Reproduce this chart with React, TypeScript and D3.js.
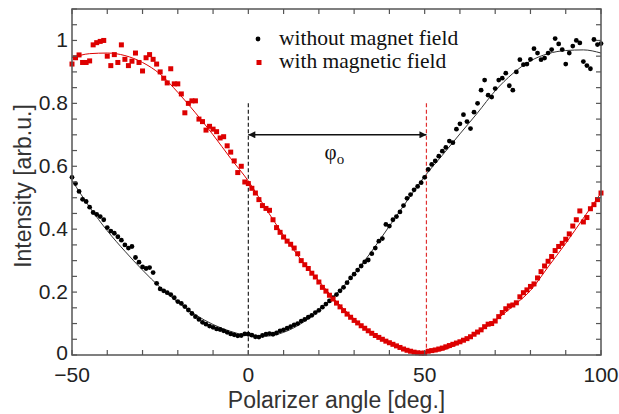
import React from "react";
import * as d3 from "d3";

// measured points, one per degree from -50 to 100
const angles = d3.range(-50, 101, 1);

const withoutField = [
  0.565, 0.545, 0.52, 0.495, 0.488, 0.47, 0.453, 0.447, 0.44, 0.43,
  0.405, 0.394, 0.387, 0.376, 0.365, 0.35, 0.34, 0.345, 0.31, 0.295,
  0.28, 0.275, 0.278, 0.262, 0.228, 0.21, 0.204, 0.198, 0.192, 0.182,
  0.17, 0.164, 0.154, 0.143, 0.132, 0.122, 0.113, 0.104, 0.098, 0.092,
  0.088, 0.083, 0.081, 0.077, 0.072, 0.067, 0.064, 0.061, 0.062, 0.067,
  0.066,
  0.063, 0.058, 0.057, 0.062, 0.066, 0.068, 0.066, 0.07, 0.077, 0.08,
  0.085, 0.09, 0.096, 0.1, 0.108, 0.113, 0.12, 0.126, 0.135, 0.142,
  0.152, 0.162, 0.172, 0.182, 0.192, 0.204, 0.215, 0.23, 0.245, 0.257,
  0.27, 0.283, 0.296, 0.302, 0.322, 0.34, 0.362, 0.37, 0.415, 0.41,
  0.43, 0.44, 0.455, 0.475, 0.498, 0.51, 0.525, 0.536, 0.548, 0.565,
  0.59, 0.606, 0.617, 0.632, 0.648, 0.66, 0.68, 0.675, 0.718, 0.735,
  0.764, 0.742, 0.72, 0.772, 0.8, 0.842, 0.874, 0.826, 0.82, 0.847,
  0.874, 0.88, 0.896, 0.856, 0.842, 0.9, 0.939, 0.923, 0.925, 0.94,
  0.974, 0.96, 0.939, 0.944, 0.96, 0.971, 1.006, 0.989, 0.971, 0.925,
  0.96, 0.982, 1.0, 0.992, 0.933, 0.92, 0.91, 1.003, 0.987, 0.99,
];

const withField = [
  0.925, 0.945, 0.954, 0.93, 0.93, 0.935, 0.986, 0.993, 0.997, 1.0,
  0.95, 0.92, 0.955, 0.93, 0.986, 0.94, 0.92, 0.934, 0.96, 0.93,
  0.903, 0.945, 0.955, 0.94, 0.925, 0.9, 0.88, 0.865, 0.91, 0.862,
  0.862, 0.83, 0.77, 0.8, 0.808, 0.808, 0.75, 0.742, 0.715, 0.727,
  0.718, 0.71, 0.69, 0.694, 0.665, 0.645, 0.617, 0.58, 0.6, 0.55,
  0.545,
  0.53, 0.515, 0.494, 0.475, 0.466, 0.46, 0.43, 0.405, 0.39, 0.375,
  0.362, 0.352, 0.34, 0.322, 0.3, 0.287, 0.275, 0.26, 0.248, 0.232,
  0.215, 0.203, 0.19, 0.178, 0.165, 0.153, 0.141, 0.13, 0.12, 0.11,
  0.102, 0.093, 0.085, 0.077, 0.069, 0.062, 0.056, 0.05, 0.044, 0.039,
  0.034, 0.029, 0.024, 0.019, 0.015, 0.012, 0.009, 0.007, 0.006, 0.006,
  0.012, 0.014, 0.016, 0.019, 0.022, 0.026, 0.03, 0.034, 0.038, 0.042,
  0.047, 0.052, 0.058, 0.066, 0.073, 0.08, 0.09, 0.098, 0.1, 0.108,
  0.122, 0.135, 0.147, 0.156, 0.159, 0.166, 0.185, 0.198, 0.207, 0.218,
  0.226, 0.245, 0.265, 0.283, 0.298, 0.313, 0.332, 0.345, 0.355, 0.368,
  0.385, 0.41, 0.43, 0.458, 0.423, 0.437, 0.465, 0.478, 0.494, 0.515,
];

// fitted curves, read every 5 degrees
const fitAngles = d3.range(-50, 101, 5);
const fitWithout = [
  0.555, 0.47, 0.395, 0.33, 0.27, 0.215, 0.168, 0.128, 0.097, 0.075,
  0.062, 0.06, 0.072, 0.1, 0.142, 0.195, 0.258, 0.33, 0.41, 0.49,
  0.568, 0.635, 0.703, 0.77, 0.84, 0.895, 0.935, 0.958, 0.968, 0.97,
  0.96,
];
const fitWith = [
  0.945, 0.958, 0.96, 0.952, 0.93, 0.893, 0.835, 0.77, 0.7, 0.625,
  0.553, 0.465, 0.38, 0.302, 0.235, 0.17, 0.115, 0.07, 0.037, 0.016,
  0.008, 0.015, 0.038, 0.07, 0.11, 0.155, 0.205, 0.28, 0.355, 0.435,
  0.515,
];

const xTickLabels = [-50, 0, 50, 100];
const yTickLabels = [0, 0.2, 0.4, 0.6, 0.8, 1];
const legendNames = ["without magnet field", "with magnetic field"];
const minimumAngles = [0, 50.5];
const markerTop = 0.8;
const arrowLevel = 0.7;

const width = 619;
const height = 414;
const margin = { top: 9, right: 18, bottom: 59, left: 72 };
const sans = "'Liberation Sans', Arial, sans-serif";
const serif = "'Liberation Serif', 'Times New Roman', serif";
const red = "#dd0000";

export default function App() {
  const x = d3
    .scaleLinear()
    .domain([-50, 100])
    .range([margin.left, width - margin.right]);
  const y = d3
    .scaleLinear()
    .domain([0, 1.1])
    .range([height - margin.bottom, margin.top]);

  const fitLine = d3
    .line<number>()
    .x((d, i) => x(fitAngles[i]))
    .y((d) => y(d))
    .curve(d3.curveMonotoneX);

  const x0 = x.range()[0];
  const x1 = x.range()[1];
  const yb = y.range()[0];
  const yt = y.range()[1];

  const fmt = (v: number) => (v < 0 ? "\u2212" + Math.abs(v) : String(v));

  return (
    <svg
      width={width}
      height={height}
      style={{ position: "absolute", left: 0, top: 0, background: "white" }}
    >
      <defs>
        <marker
          id="head"
          viewBox="0 0 10 10"
          refX={10}
          refY={5}
          markerWidth={9}
          markerHeight={7}
          markerUnits="userSpaceOnUse"
          orient="auto-start-reverse"
        >
          <path d="M0,0 L10,5 L0,10 z" fill="#111" />
        </marker>
      </defs>

      {/* minimum markers */}
      {minimumAngles.map((a, i) => (
        <line
          key={i}
          x1={x(a)}
          x2={x(a)}
          y1={y(markerTop)}
          y2={yb}
          stroke={i === 0 ? "#222" : "#e03030"}
          strokeWidth={1.2}
          strokeDasharray="4 2.5"
        />
      ))}
      <line
        x1={x(minimumAngles[0])}
        x2={x(minimumAngles[1])}
        y1={y(arrowLevel)}
        y2={y(arrowLevel)}
        stroke="#111"
        strokeWidth={1.5}
        markerStart="url(#head)"
        markerEnd="url(#head)"
      />
      <text
        x={(x(minimumAngles[0]) + x(minimumAngles[1])) / 2 - 3}
        y={y(arrowLevel) + 24}
        textAnchor="middle"
        style={{ fontFamily: serif, fontSize: 21, fill: "#111" }}
      >
        φ
        <tspan dy={5} style={{ fontSize: 15 }}>
          o
        </tspan>
      </text>

      {/* fits */}
      <path d={fitLine(fitWithout) || ""} fill="none" stroke="#333" strokeWidth={1} />
      <path d={fitLine(fitWith) || ""} fill="none" stroke={red} strokeWidth={1} />

      {/* data */}
      <g>
        {withoutField.map((v, i) => (
          <circle key={i} cx={x(angles[i])} cy={y(v)} r={2.4} fill="#000" />
        ))}
      </g>
      <g>
        {withField.map((v, i) => (
          <rect
            key={i}
            x={x(angles[i]) - 2.5}
            y={y(v) - 2.5}
            width={5}
            height={5}
            fill={red}
          />
        ))}
      </g>

      {/* frame and ticks */}
      <rect
        x={x0}
        y={yt}
        width={x1 - x0}
        height={yb - yt}
        fill="none"
        stroke="#555"
        strokeWidth={1.5}
      />
      {x.ticks(15).map((t) => (
        <g key={"x" + t}>
          <line x1={x(t)} x2={x(t)} y1={yb} y2={yb - 5} stroke="#555" strokeWidth={1.2} />
          <line x1={x(t)} x2={x(t)} y1={yt} y2={yt + 5} stroke="#555" strokeWidth={1.2} />
        </g>
      ))}
      {y.ticks(22).map((t) => (
        <g key={"y" + t}>
          <line x1={x0} x2={x0 + 5} y1={y(t)} y2={y(t)} stroke="#555" strokeWidth={1.2} />
          <line x1={x1} x2={x1 - 5} y1={y(t)} y2={y(t)} stroke="#555" strokeWidth={1.2} />
        </g>
      ))}
      {xTickLabels.map((t) => (
        <text
          key={"xl" + t}
          x={x(t)}
          y={yb + 27}
          textAnchor="middle"
          style={{ fontFamily: sans, fontSize: 21, fill: "#222" }}
        >
          {fmt(t)}
        </text>
      ))}
      {yTickLabels.map((t) => (
        <text
          key={"yl" + t}
          x={x0 - 4}
          y={y(t) + (t === 0 ? 5 : 7)}
          textAnchor="end"
          style={{ fontFamily: sans, fontSize: 21, fill: "#222" }}
        >
          {t}
        </text>
      ))}

      {/* axis titles */}
      <text
        x={(x0 + x1) / 2}
        y={408}
        textAnchor="middle"
        style={{ fontFamily: sans, fontSize: 23, fill: "#333" }}
      >
        Polarizer angle [deg.]
      </text>
      <text
        transform={`translate(31, ${(yt + yb) / 2 + 4}) rotate(-90)`}
        textAnchor="middle"
        style={{ fontFamily: sans, fontSize: 23, fill: "#333" }}
      >
        Intensity [arb.u.]
      </text>

      {/* legend */}
      <circle cx={258} cy={39} r={2.4} fill="#000" />
      <rect x={256.5} y={60} width={5} height={5} fill={red} />
      {legendNames.map((name, i) => (
        <text
          key={name}
          x={279}
          y={45 + i * 23}
          style={{ fontFamily: serif, fontSize: 21.5, fill: "#111" }}
        >
          {name}
        </text>
      ))}
    </svg>
  );
}
